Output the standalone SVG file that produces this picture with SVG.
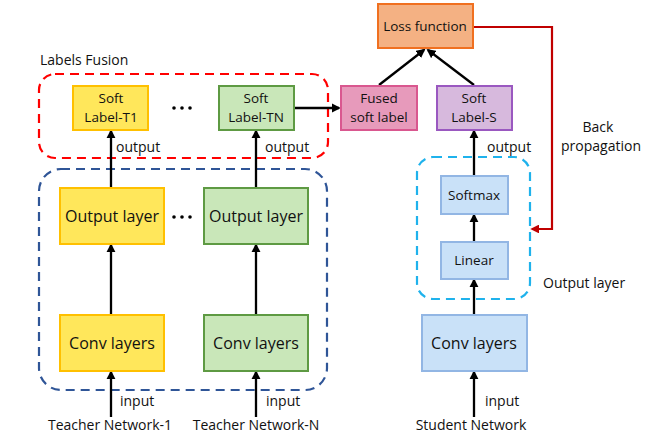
<svg xmlns="http://www.w3.org/2000/svg" width="654" height="436" viewBox="0 0 654 436">
  <style>
    text { font-family: "Open Sans", "Noto Sans", "DejaVu Sans", sans-serif; fill: #111; }
    .lbl { font-size: 13.5px; text-anchor: middle; }
    .big { font-size: 16px; text-anchor: middle; }
    .note { font-size: 14px; }
    .yel { fill: #FFE75B; stroke: #FFC000; stroke-width: 2; }
    .grn { fill: #C9E7B9; stroke: #5E9A43; stroke-width: 2; }
    .pnk { fill: #E79ABB; stroke: #D9578F; stroke-width: 2; }
    .pur { fill: #D7B9DD; stroke: #9A58C0; stroke-width: 2; }
    .org { fill: #F4B183; stroke: #F07020; stroke-width: 2; }
    .blu { fill: #C9E1F8; stroke: #92B6E4; stroke-width: 2; }
    .arr { stroke: #000; stroke-width: 2.3; fill: none; marker-end: url(#ah); }
    .dash { fill: none; stroke-width: 2.2; stroke-dasharray: 9 6; }
  </style>
  <defs>
    <marker id="ah" markerWidth="4" markerHeight="4" refX="3.2" refY="2" orient="auto" markerUnits="strokeWidth">
      <path d="M0,0 L4,2 L0,4 Z" fill="#000"/>
    </marker>
    <marker id="ahr" markerWidth="4" markerHeight="4" refX="3.2" refY="2" orient="auto" markerUnits="strokeWidth">
      <path d="M0,0 L4,2 L0,4 Z" fill="#C00000"/>
    </marker>
  </defs>
  <rect width="654" height="436" fill="#fff"/>

  <!-- grouping frames -->
  <g id="frames">
    <rect x="39" y="74" width="289" height="84" rx="16" class="dash" stroke="#FF0000"/>
    <rect x="39" y="169" width="288" height="221" rx="22" class="dash" stroke="#2F5597"/>
    <rect x="417" y="157" width="113" height="142" rx="16" class="dash" stroke="#1FB2EC"/>
    <text x="40" y="65" class="note">Labels Fusion</text>
    <text x="543" y="288" class="note">Output layer</text>
  </g>

  <!-- connectors -->
  <g id="connectors">
    <line x1="111" y1="417" x2="111" y2="372" class="arr"/>
    <line x1="256" y1="417" x2="256" y2="372" class="arr"/>
    <line x1="474" y1="417" x2="474" y2="372" class="arr"/>
    <line x1="111" y1="315" x2="111" y2="245" class="arr"/>
    <line x1="256" y1="315" x2="256" y2="245" class="arr"/>
    <line x1="474" y1="315" x2="474" y2="280" class="arr"/>
    <line x1="474" y1="242" x2="474" y2="215" class="arr"/>
    <line x1="111" y1="188" x2="111" y2="131" class="arr"/>
    <line x1="256" y1="188" x2="256" y2="131" class="arr"/>
    <line x1="474" y1="176" x2="474" y2="131" class="arr"/>
    <line x1="294" y1="108" x2="339" y2="108" class="arr"/>
    <line x1="379" y1="85" x2="424" y2="50" class="arr"/>
    <line x1="474" y1="85" x2="428" y2="50" class="arr"/>
    <polyline points="473,27 552,27 552,229 532,229" fill="none" stroke="#C00000" stroke-width="2.2" marker-end="url(#ahr)"/>
    <text x="120" y="406" class="note">input</text>
    <text x="266" y="406" class="note">input</text>
    <text x="485" y="406" class="note">input</text>
    <text x="116" y="152" class="note">output</text>
    <text x="265" y="152" class="note">output</text>
    <text x="487" y="152" class="note">output</text>
    <text x="598" y="132" class="note" text-anchor="middle">Back</text>
    <text x="601" y="151" class="note" text-anchor="middle">propagation</text>
  </g>

  <!-- teacher 1 -->
  <g id="t1-conv">
    <rect x="60" y="315" width="104" height="56" class="yel"/>
    <text x="112" y="349" class="big">Conv layers</text>
  </g>
  <g id="t1-out">
    <rect x="60" y="188" width="104" height="56" class="yel"/>
    <text x="112" y="222" class="big">Output layer</text>
  </g>
  <g id="t1-soft">
    <rect x="73" y="86" width="75" height="44" class="yel"/>
    <text x="111" y="103" class="lbl">Soft</text>
    <text x="111" y="122" class="lbl">Label-T1</text>
  </g>

  <!-- teacher N -->
  <g id="tn-conv">
    <rect x="204" y="315" width="104" height="56" class="grn"/>
    <text x="256" y="349" class="big">Conv layers</text>
  </g>
  <g id="tn-out">
    <rect x="204" y="188" width="104" height="56" class="grn"/>
    <text x="256" y="222" class="big">Output layer</text>
  </g>
  <g id="tn-soft">
    <rect x="219" y="86" width="75" height="44" class="grn"/>
    <text x="256" y="103" class="lbl">Soft</text>
    <text x="256" y="122" class="lbl">Label-TN</text>
  </g>

  <!-- ellipses between teachers -->
  <g id="dots" fill="#000">
    <circle cx="174" cy="108" r="1.8"/><circle cx="182" cy="108" r="1.8"/><circle cx="190" cy="108" r="1.8"/>
    <circle cx="174" cy="217" r="1.8"/><circle cx="182" cy="217" r="1.8"/><circle cx="190" cy="217" r="1.8"/>
  </g>

  <!-- student -->
  <g id="s-conv">
    <rect x="422" y="315" width="105" height="56" class="blu"/>
    <text x="474" y="349" class="big">Conv layers</text>
  </g>
  <g id="s-linear">
    <rect x="441" y="242" width="67" height="37" class="blu"/>
    <text x="474" y="265" class="lbl">Linear</text>
  </g>
  <g id="s-softmax">
    <rect x="441" y="176" width="67" height="38" class="blu"/>
    <text x="474" y="200" class="lbl">Softmax</text>
  </g>
  <g id="s-soft">
    <rect x="437" y="86" width="75" height="44" class="pur"/>
    <text x="474" y="103" class="lbl">Soft</text>
    <text x="474" y="122" class="lbl">Label-S</text>
  </g>

  <!-- fusion and loss -->
  <g id="fused">
    <rect x="341" y="86" width="76" height="44" class="pnk"/>
    <text x="379" y="103" class="lbl">Fused</text>
    <text x="379" y="122" class="lbl">soft label</text>
  </g>
  <g id="loss">
    <rect x="378" y="4" width="95" height="44" class="org"/>
    <text x="425" y="31" class="lbl">Loss function</text>
  </g>

  <!-- network captions -->
  <g id="captions">
    <text x="110" y="430" class="note" text-anchor="middle">Teacher Network-1</text>
    <text x="256" y="430" class="note" text-anchor="middle">Teacher Network-N</text>
    <text x="471" y="430" class="note" text-anchor="middle">Student Network</text>
  </g>
</svg>
